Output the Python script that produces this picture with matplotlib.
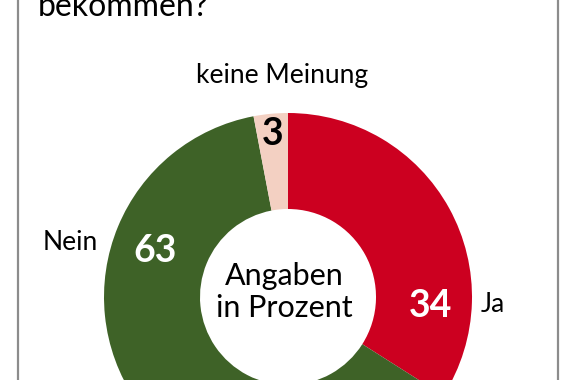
import matplotlib.pyplot as plt
from matplotlib.lines import Line2D

kategorien = ["Ja", "Nein", "keine Meinung"]
werte = [34, 63, 3]
farben = ["#CC0020", "#3E6227", "#F3D0C2"]
titel = "bekommen?"
mitte_text = "Angaben\nin Prozent"

B, H = 576, 380
plt.rcParams['font.family'] = ['Lato', 'DejaVu Sans']

fig = plt.figure(figsize=(B / 100, H / 100), dpi=100)
ax = fig.add_axes([0, 0, 1, 1])

def y(v):
    # Pixel von oben -> Datenkoordinate
    return H - v

cx, cy = 288, 297
r_aussen, r_innen = 184, 88

ax.pie(werte, colors=farben, startangle=90, counterclock=False,
       center=(cx, y(cy)), radius=r_aussen,
       wedgeprops=dict(width=r_aussen - r_innen, linewidth=0))

ax.set_xlim(0, B)
ax.set_ylim(0, H)
ax.set_aspect('equal')
ax.axis('off')

# Zahlen in den Segmenten
ax.text(431, y(306), str(werte[0]), color='white', fontsize=27, fontweight='bold',
        ha='center', va='center')
ax.text(155, y(251), str(werte[1]), color='white', fontsize=27, fontweight='bold',
        ha='center', va='center')
ax.text(273, y(134), str(werte[2]), color='black', fontsize=27, fontweight='bold',
        ha='center', va='center')

# Beschriftungen
ax.text(493, y(305), kategorien[0], fontsize=19, ha='center', va='center')
ax.text(70, y(243), kategorien[1], fontsize=19, ha='center', va='center')
ax.text(282, y(75), kategorien[2], fontsize=19, ha='center', va='center')

ax.text(284, y(292), mitte_text, fontsize=22, ha='center', va='center',
        linespacing=1.15)

ax.text(38, y(16), titel, fontsize=23, ha='left', va='baseline')

# Rahmenlinien
fig.add_artist(Line2D([18 / B, 18 / B], [0, 1], color='#8c8c8c', lw=1.6))
fig.add_artist(Line2D([558 / B, 558 / B], [0, 1], color='#8c8c8c', lw=1.6))

fig.savefig("out.png", dpi=100)
